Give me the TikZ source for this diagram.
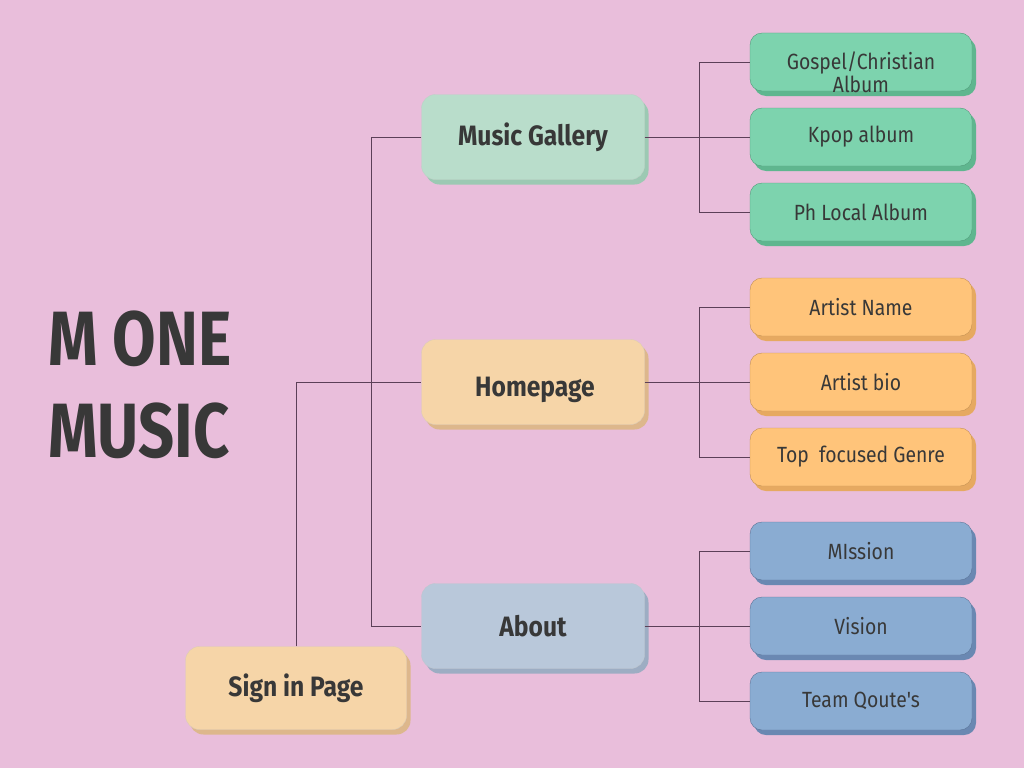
\documentclass[tikz,border=0pt]{standalone}
\usepackage{fontspec}
\setmainfont[FakeStretch=0.88, Ligatures=TeXOff]{Fira Sans}
\newfontfamily\titlefont[FakeStretch=0.82]{Fira Sans}
\usetikzlibrary{shadows}
\definecolor{bgpink}{HTML}{E9BEDB}
\definecolor{linkline}{HTML}{5C4058}
\definecolor{inkgray}{HTML}{383838}
\definecolor{mint}{HTML}{B9DDCB}
\definecolor{mintdark}{HTML}{9CC9B3}
\definecolor{green}{HTML}{7DD3AE}
\definecolor{greendark}{HTML}{5FB68F}
\definecolor{peach}{HTML}{F6D5A8}
\definecolor{peachdark}{HTML}{DDB78C}
\definecolor{orange}{HTML}{FFC47A}
\definecolor{orangedark}{HTML}{E6A961}
\definecolor{steel}{HTML}{B9C8DA}
\definecolor{steeldark}{HTML}{9DADC3}
\definecolor{blue}{HTML}{8AACD2}
\definecolor{bluedark}{HTML}{6A88B2}
\tikzset{
  mainbox/.style={rounded corners=14pt, minimum width=223pt, minimum height=85pt,
    font=\fontsize{28}{30}\selectfont\bfseries, text=inkgray, draw=#1!80!black!60,
    fill=#1, drop shadow={shadow xshift=4pt, shadow yshift=-5pt, fill=#1dark, opacity=1}},
  leafbox/.style={rounded corners=12pt, minimum width=222pt, minimum height=58pt,
    font=\fontsize{22}{23}\selectfont, text=inkgray, align=center, draw=#1dark!85!black,
    fill=#1, drop shadow={shadow xshift=4pt, shadow yshift=-5pt, fill=#1dark, opacity=1}},
  link/.style={draw=linkline, line width=1pt}
}
\begin{document}
\begin{tikzpicture}[x=1pt, y=-1pt]
  \useasboundingbox[fill=bgpink] (0,0) rectangle (1024,768);

  % title
  \node[anchor=base west, inner sep=0pt, text=inkgray, font=\titlefont\fontsize{77}{77}\selectfont\bfseries] (mone) at (48,365) {M ONE};
  \node[anchor=base west, inner sep=0pt, text=inkgray, font=\titlefont\fontsize{77}{77}\selectfont\bfseries] (music) at (48,457) {MUSIC};

  % main pages
  \node[mainbox=mint] (gallery) at (533,137) {Music Gallery};
  \node[mainbox=peach] (home) at (533,382) {\raisebox{-14pt}[0pt][0pt]{\hspace{4pt}Homepage}};
  \node[mainbox=steel] (about) at (533,626) {About};
  \node[mainbox=peach, minimum width=221pt, minimum height=83pt] (signin) at (296,688) {Sign in Page};

  % sub pages
  \node[leafbox=green] (gospel) at (861,62) {\raisebox{-31pt}[0pt][0pt]{\shortstack{Gospel/Christian\\[-1pt]Album}}};
  \node[leafbox=green] (kpop) at (861,137) {Kpop album};
  \node[leafbox=green] (local) at (861,212) {Ph Local Album};
  \node[leafbox=orange] (artist) at (861,307) {Artist Name};
  \node[leafbox=orange] (bio) at (861,382) {Artist bio};
  \node[leafbox=orange] (genre) at (861,457) {Top\ \ focused Genre};
  \node[leafbox=blue] (mission) at (861,551) {MIssion};
  \node[leafbox=blue] (vision) at (861,626) {Vision};
  \node[leafbox=blue] (quote) at (861,701) {Team Qoute's};

  % left links
  \coordinate (lbus) at (371,137);
  \draw[link] (signin.north) |- (home.west);
  \draw[link] (gallery.west) -- (lbus) |- (about.west);

  % right links
  \coordinate (rbus) at (699,0);
  \foreach \p/\a/\b/\c in {gallery/gospel/kpop/local, home/artist/bio/genre, about/mission/vision/quote}{
    \draw[link] (\p.east) -- (\b.west);
    \draw[link] (\a.west) -- (\a.west -| rbus) -- (\c.west -| rbus) -- (\c.west);
  }
\end{tikzpicture}
\end{document}
